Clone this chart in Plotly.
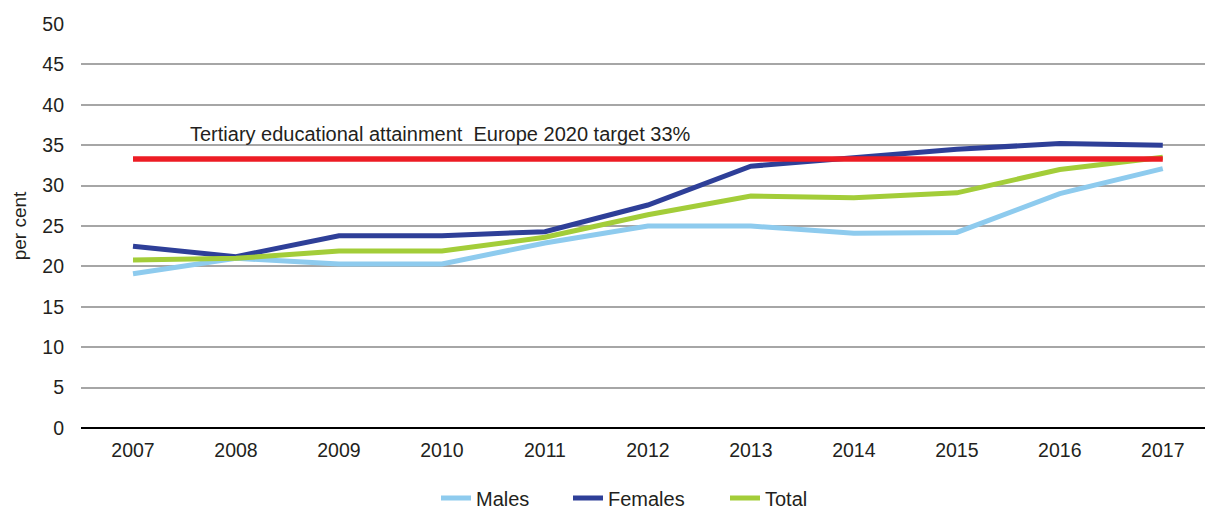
import plotly.graph_objects as go

# Tertiary educational attainment, per cent of population aged 30-34
years = ["2007", "2008", "2009", "2010", "2011", "2012",
         "2013", "2014", "2015", "2016", "2017"]
males = [19.1, 21.0, 20.3, 20.3, 22.9, 25.0, 25.0, 24.1, 24.2, 29.0, 32.1]
females = [22.5, 21.2, 23.8, 23.8, 24.3, 27.6, 32.4, 33.4, 34.5, 35.2, 35.0]
total = [20.8, 21.0, 21.9, 21.9, 23.6, 26.4, 28.7, 28.5, 29.1, 32.0, 33.5]
target_value = 33.3
target = [target_value] * len(years)
target_label = "Tertiary educational attainment  Europe 2020 target 33%"

y_ticks = list(range(0, 51, 5))

FONT = "Liberation Sans, Arial, sans-serif"
TEXT = "#231F20"
W, H = 1205, 509

fig = go.Figure()

# each series gets its own legend box so the entries can be spaced freely
series = [
    ("Males", males, "#8ECBEE", "legend", 436),
    ("Females", females, "#2E3F98", "legend2", 568),
    ("Total", total, "#A3CD39", "legend3", 725),
]
for name, values, color, leg, _ in series:
    fig.add_trace(go.Scatter(
        x=years, y=values, name=name, mode="lines",
        line=dict(color=color, width=5),
        legend=leg, hoverinfo="x+y+name",
    ))

# Europe 2020 benchmark
fig.add_trace(go.Scatter(
    x=years, y=target, name="Target", mode="lines",
    line=dict(color="#ED1C24", width=5.5),
    showlegend=False,
))

fig.add_annotation(
    x=0.53, y=36.4, xref="x", yref="y",
    text=target_label, showarrow=False,
    xanchor="left", yanchor="middle",
    font=dict(family=FONT, size=20, color=TEXT),
)

legend_style = dict(
    orientation="h", xref="container", yref="container",
    xanchor="left", y=1 - 498 / H, yanchor="middle",
    font=dict(family=FONT, size=20, color=TEXT),
    bgcolor="rgba(0,0,0,0)", borderwidth=0,
)
legends = {}
for _, _, _, leg, left_px in series:
    legends[leg] = dict(legend_style, x=left_px / W)

fig.update_layout(
    width=W, height=H,
    margin=dict(l=81, r=0, t=24, b=81, autoexpand=False),
    paper_bgcolor="white", plot_bgcolor="white",
    font=dict(family=FONT, size=20, color=TEXT),
    showlegend=True,
    xaxis=dict(
        type="category", range=[-0.505, 10.41],
        showgrid=False, showline=False, zeroline=False,
        ticks="", ticklabelstandoff=8,
        tickfont=dict(size=19.5, color=TEXT),
    ),
    yaxis=dict(
        range=[0, 50], tickvals=y_ticks,
        showgrid=True, gridcolor="#A6A6A6", gridwidth=1.5,
        zeroline=True, zerolinecolor="#000000", zerolinewidth=2,
        showline=False, ticks="", ticklabelstandoff=16,
        tickfont=dict(size=19.5, color=TEXT),
        title=dict(text="per cent", font=dict(size=19, color=TEXT), standoff=10),
    ),
    **legends,
)

fig.write_html("out.html")
